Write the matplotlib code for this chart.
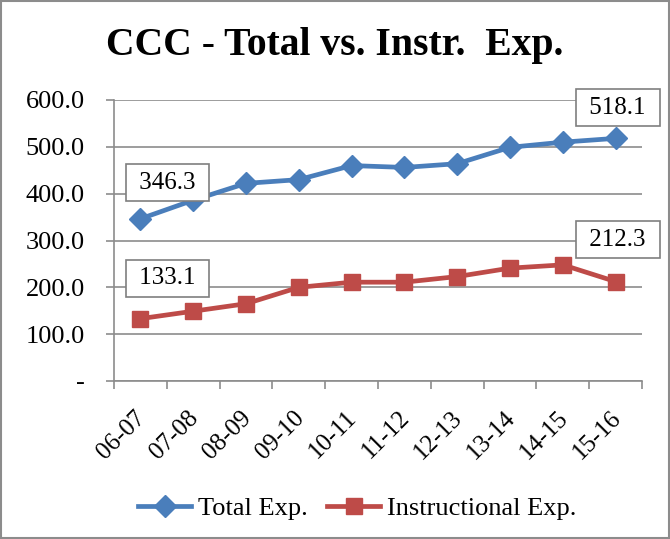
import matplotlib.pyplot as plt
import numpy as np
from matplotlib.transforms import ScaledTranslation

# values
years = ['06-07', '07-08', '08-09', '09-10', '10-11', '11-12', '12-13', '13-14', '14-15', '15-16']
total_exp = [346.3, 386, 422, 430, 460, 456, 464, 499, 510, 518.1]
instr_exp = [133.1, 149, 165, 200, 211, 211, 223, 241, 248, 212.3]
y_ticks = [0, 100, 200, 300, 400, 500, 600]

plt.rcParams['font.family'] = ['Liberation Serif', 'DejaVu Serif']

fig = plt.figure(figsize=(6.7, 5.39), dpi=100)
ax = fig.add_axes([114/670, 1 - 381/539, (642-114)/670, (381-100)/539])

# outer chart border
fig.patches.append(plt.Rectangle((0.002, 0.002), 0.996, 0.996, transform=fig.transFigure,
                                 fill=False, edgecolor='#8c8c8c', linewidth=1.5))

x = np.arange(len(years))
blue = '#4a7ebb'
red = '#be4b48'
ax.plot(x, total_exp, color=blue, linewidth=3.4, marker='D', markersize=11.5, label='Total Exp.', zorder=3)
ax.plot(x, instr_exp, color=red, linewidth=3.4, marker='s', markersize=12, label='Instructional Exp.', zorder=3)

ax.set_xlim(-0.5, len(years) - 0.5)
ax.set_ylim(0, 600)
ax.set_yticks(y_ticks)
ax.set_yticklabels(['-' if v == 0 else f'{v:.1f}' for v in y_ticks], fontsize=19)
ax.yaxis.grid(True, color='#8c8c8c', linewidth=1.2)
ax.set_axisbelow(True)

ax.set_xticks(np.arange(len(years) + 1) - 0.5)
ax.set_xticklabels([])
ax.set_xticks(x, minor=True)
ax.set_xticklabels(years, minor=True, rotation=45, ha='right', rotation_mode='anchor', fontsize=18)
ax.tick_params(axis='x', which='major', length=6, color='#8c8c8c', width=1.2, direction='out')
ax.tick_params(axis='x', which='minor', length=0, pad=12)
ax.tick_params(axis='y', length=6, color='#8c8c8c', width=1.2, pad=15)
# nudge the slanted labels down-left like the original
shift = ScaledTranslation(-6/100, -9/100, fig.dpi_scale_trans)
for lbl in ax.get_xticklabels(minor=True):
    lbl.set_transform(lbl.get_transform() + shift)

for s in ['top', 'right']:
    ax.spines[s].set_visible(False)
for s in ['left', 'bottom']:
    ax.spines[s].set_color('#8c8c8c')
    ax.spines[s].set_linewidth(1.2)

# boxed data labels on first and last points
box = dict(boxstyle='square,pad=0.3', facecolor='white', edgecolor='#7f7f7f', linewidth=1.2)
ax.annotate(f' {total_exp[0]:.1f} ', (x[0], total_exp[0]), xytext=(19.5, 26), textcoords='offset points',
            ha='center', va='center', fontsize=18, bbox=box, zorder=4)
ax.annotate(f' {instr_exp[0]:.1f} ', (x[0], instr_exp[0]), xytext=(19.5, 29), textcoords='offset points',
            ha='center', va='center', fontsize=18, bbox=box, zorder=4)
ax.annotate(f' {total_exp[-1]:.1f} ', (x[-1], total_exp[-1]), xytext=(1.5, 22), textcoords='offset points',
            ha='center', va='center', fontsize=18, bbox=box, zorder=4)
ax.annotate(f' {instr_exp[-1]:.1f} ', (x[-1], instr_exp[-1]), xytext=(1.5, 30), textcoords='offset points',
            ha='center', va='center', fontsize=18, bbox=box, zorder=4)

fig.text(0.5, 1 - 45/539, 'CCC - Total vs. Instr.  Exp.', ha='center', va='center',
         fontsize=28.5, fontweight='bold')

fig.legend(loc='center', bbox_to_anchor=(0.533, 1 - 508/539), ncol=2, frameon=False, fontsize=19,
           handlelength=2.0, handletextpad=0.25, columnspacing=0.75)

fig.savefig('out.png', dpi=100)
